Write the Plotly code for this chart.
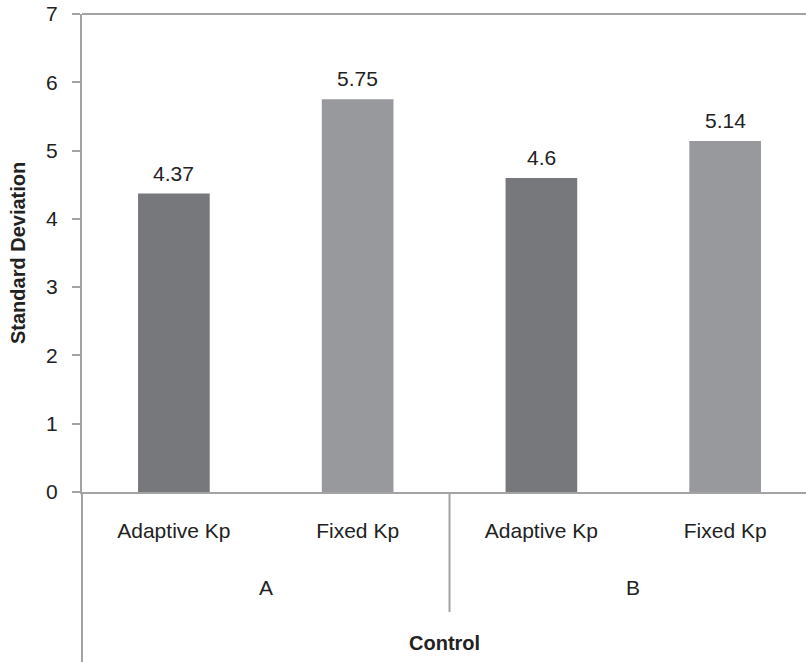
import plotly.graph_objects as go

groups = ["A", "A", "B", "B"]
methods = ["Adaptive Kp", "Fixed Kp", "Adaptive Kp", "Fixed Kp"]
values = [4.37, 5.75, 4.6, 5.14]
group_labels = ["A", "B"]
colors = ["#77787c", "#98999d", "#77787c", "#98999d"]
y_ticks = [0, 1, 2, 3, 4, 5, 6, 7]

xpos = list(range(len(values)))
font_family = "Liberation Sans, Arial, Helvetica, sans-serif"
axis_color = "#a3a3a3"
text_color = "#222222"
fs = 21

fig = go.Figure()
fig.add_trace(go.Bar(
    x=xpos, y=values, width=0.39,
    marker=dict(color=colors, line=dict(width=0)),
    showlegend=False, hoverinfo="skip",
))

# value labels above bars
for xi, v in zip(xpos, values):
    fig.add_annotation(x=xi, y=v, xref="x", yref="y", text=f"{v:g}",
                       showarrow=False, yanchor="bottom", yshift=7,
                       font=dict(size=fs, color=text_color, family=font_family))

# group labels
for gi, g in enumerate(group_labels):
    idx = [i for i, gg in enumerate(groups) if gg == g]
    cx = sum(idx) / len(idx)
    fig.add_annotation(x=cx, y=-0.199, xref="x", yref="paper", text=g,
                       showarrow=False, yanchor="middle",
                       font=dict(size=fs, color=text_color, family=font_family))

# axis titles
fig.add_annotation(x=0.5, y=-0.316, xref="paper", yref="paper", text="<b>Control</b>",
                   showarrow=False, yanchor="middle",
                   font=dict(size=20, color=text_color, family=font_family))
fig.add_annotation(x=-0.0884, y=0.5, xref="paper", yref="paper",
                   text="<b>Standard Deviation</b>", textangle=-90,
                   showarrow=False, xanchor="center", yanchor="middle",
                   font=dict(size=20, color=text_color, family=font_family))

# lines: top border, left extension, group divider
fig.add_shape(type="line", xref="paper", yref="paper", x0=0, x1=1, y0=1, y1=1,
              line=dict(color=axis_color, width=2))
fig.add_shape(type="line", xref="paper", yref="paper", x0=0, x1=0, y0=0, y1=-0.36,
              line=dict(color=axis_color, width=2))
fig.add_shape(type="line", xref="x", yref="paper", x0=1.5, x1=1.5, y0=0, y1=-0.251,
              line=dict(color=axis_color, width=2))

fig.update_layout(
    width=806, height=662,
    margin=dict(l=82, r=0, t=14, b=170),
    paper_bgcolor="white", plot_bgcolor="white",
    font=dict(family=font_family, size=fs, color=text_color),
    xaxis=dict(
        range=[-0.5, 3.44], automargin=False,
        tickmode="array", tickvals=xpos, ticktext=methods,
        ticks="", showgrid=False, zeroline=False,
        showline=True, linecolor=axis_color, linewidth=2,
        ticklabelstandoff=19,
        tickfont=dict(size=fs, color=text_color, family=font_family),
    ),
    yaxis=dict(
        range=[0, 7], tickmode="array", tickvals=y_ticks, automargin=False,
        ticks="outside", ticklen=8, tickcolor=axis_color, tickwidth=2,
        showgrid=False, zeroline=False,
        showline=True, linecolor=axis_color, linewidth=2,
        ticklabelstandoff=10,
        tickfont=dict(size=fs, color=text_color, family=font_family),
    ),
)

fig.write_html("out.html",
               config={"displayModeBar": False, "staticPlot": True},
               post_script="document.body.style.margin='0';document.body.style.overflow='hidden';")
